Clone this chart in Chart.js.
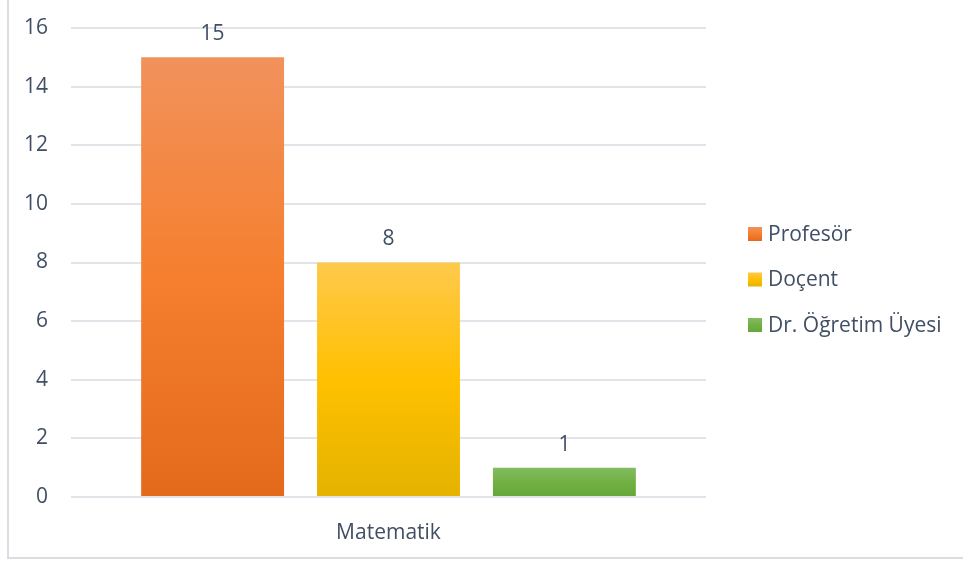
<!DOCTYPE html>
<html>
<head>
<meta charset="utf-8">
<script src="https://cdn.jsdelivr.net/npm/chart.js@4"></script>
<style>
  body { margin: 0; background: #fff; }
  #wrap { width: 963px; height: 563px; }
</style>
</head>
<body>
<div id="wrap"><canvas id="chart" width="963" height="563"></canvas></div>
<script>
const categories = ['Matematik'];
const seriesNames = ['Profesör', 'Doçent', 'Dr. Öğretim Üyesi'];
const profesorValues = [15];
const docentValues = [8];
const drOgretimValues = [1];
const yTicks = [0, 2, 4, 6, 8, 10, 12, 14, 16];

// top / middle / bottom shades of each series
const seriesShades = [
    ['#f1925c', '#f57f2e', '#e36a1b'],
    ['#ffc94c', '#ffc000', '#e4b300'],
    ['#82bd60', '#72b043', '#66a739']
];

const textColor = '#404f64';
const fontFamily = '"Open Sans", "Liberation Sans", sans-serif';

function shadeGradient(c, top, bottom, shades) {
    const g = c.createLinearGradient(0, top, 0, bottom);
    g.addColorStop(0, shades[0]);
    g.addColorStop(0.5, shades[1]);
    g.addColorStop(1, shades[2]);
    return g;
}

function barFill(i) {
    return function(context) {
        const chart = context.chart;
        if (!chart.chartArea || context.raw === undefined) return seriesShades[i][1];
        const y = chart.scales.y;
        return shadeGradient(chart.ctx, y.getPixelForValue(context.raw), y.getPixelForValue(0), seriesShades[i]);
    };
}

const valueLabels = {
    id: 'valueLabels',
    afterDatasetsDraw(chart) {
        const c = chart.ctx;
        c.save();
        c.font = '21px ' + fontFamily;
        c.fillStyle = textColor;
        c.textAlign = 'center';
        c.textBaseline = 'middle';
        chart.data.datasets.forEach((ds, i) => {
            chart.getDatasetMeta(i).data.forEach((bar, j) => {
                c.fillText(ds.data[j], bar.x, bar.y - 23);
            });
        });
        c.restore();
    }
};

const sideLegend = {
    id: 'sideLegend',
    afterDraw(chart) {
        const c = chart.ctx;
        const x = chart.chartArea.right + 42;
        const mid = 279.5;
        const step = 45.5;
        c.save();
        c.font = '21px ' + fontFamily;
        c.textBaseline = 'middle';
        c.textAlign = 'left';
        chart.data.datasets.forEach((ds, i) => {
            const cy = mid + (i - 1) * step;
            c.fillStyle = shadeGradient(c, cy - 7, cy + 7, seriesShades[i]);
            c.fillRect(x, cy - 7, 14, 14);
            c.fillStyle = textColor;
            c.fillText(ds.label, x + 20, cy + 1);
        });
        // frame of the chart box (left and bottom edges visible)
        c.strokeStyle = '#dadee3';
        c.lineWidth = 2;
        c.beginPath();
        c.moveTo(8, 0);
        c.lineTo(8, 558);
        c.lineTo(963, 558);
        c.stroke();
        c.restore();
    }
};

new Chart(document.getElementById('chart'), {
    type: 'bar',
    data: {
        labels: categories,
        datasets: [
            { label: seriesNames[0], data: profesorValues, backgroundColor: barFill(0) },
            { label: seriesNames[1], data: docentValues, backgroundColor: barFill(1) },
            { label: seriesNames[2], data: drOgretimValues, backgroundColor: barFill(2) }
        ]
    },
    options: {
        responsive: false,
        animation: false,
        categoryPercentage: 0.831,
        barPercentage: 0.8125,
        layout: { padding: { left: 0, right: 257, top: 28, bottom: 0 } },
        plugins: {
            legend: { display: false },
            tooltip: { enabled: false }
        },
        scales: {
            x: {
                grid: { display: false },
                border: { display: false },
                ticks: { color: textColor, font: { family: fontFamily, size: 21 }, padding: 15 },
                afterFit: s => { s.height = 66; }
            },
            y: {
                min: 0,
                max: 16,
                afterBuildTicks: s => { s.ticks = yTicks.map(v => ({ value: v })); },
                grid: { color: '#e1e4e9', lineWidth: 2, drawTicks: false },
                border: { display: false },
                ticks: { color: textColor, font: { family: fontFamily, size: 21 }, padding: 23 },
                afterFit: s => { s.width = 71; s.paddingTop = 0; s.paddingBottom = 0; }
            }
        }
    },
    plugins: [valueLabels, sideLegend]
});
</script>
</body>
</html>
